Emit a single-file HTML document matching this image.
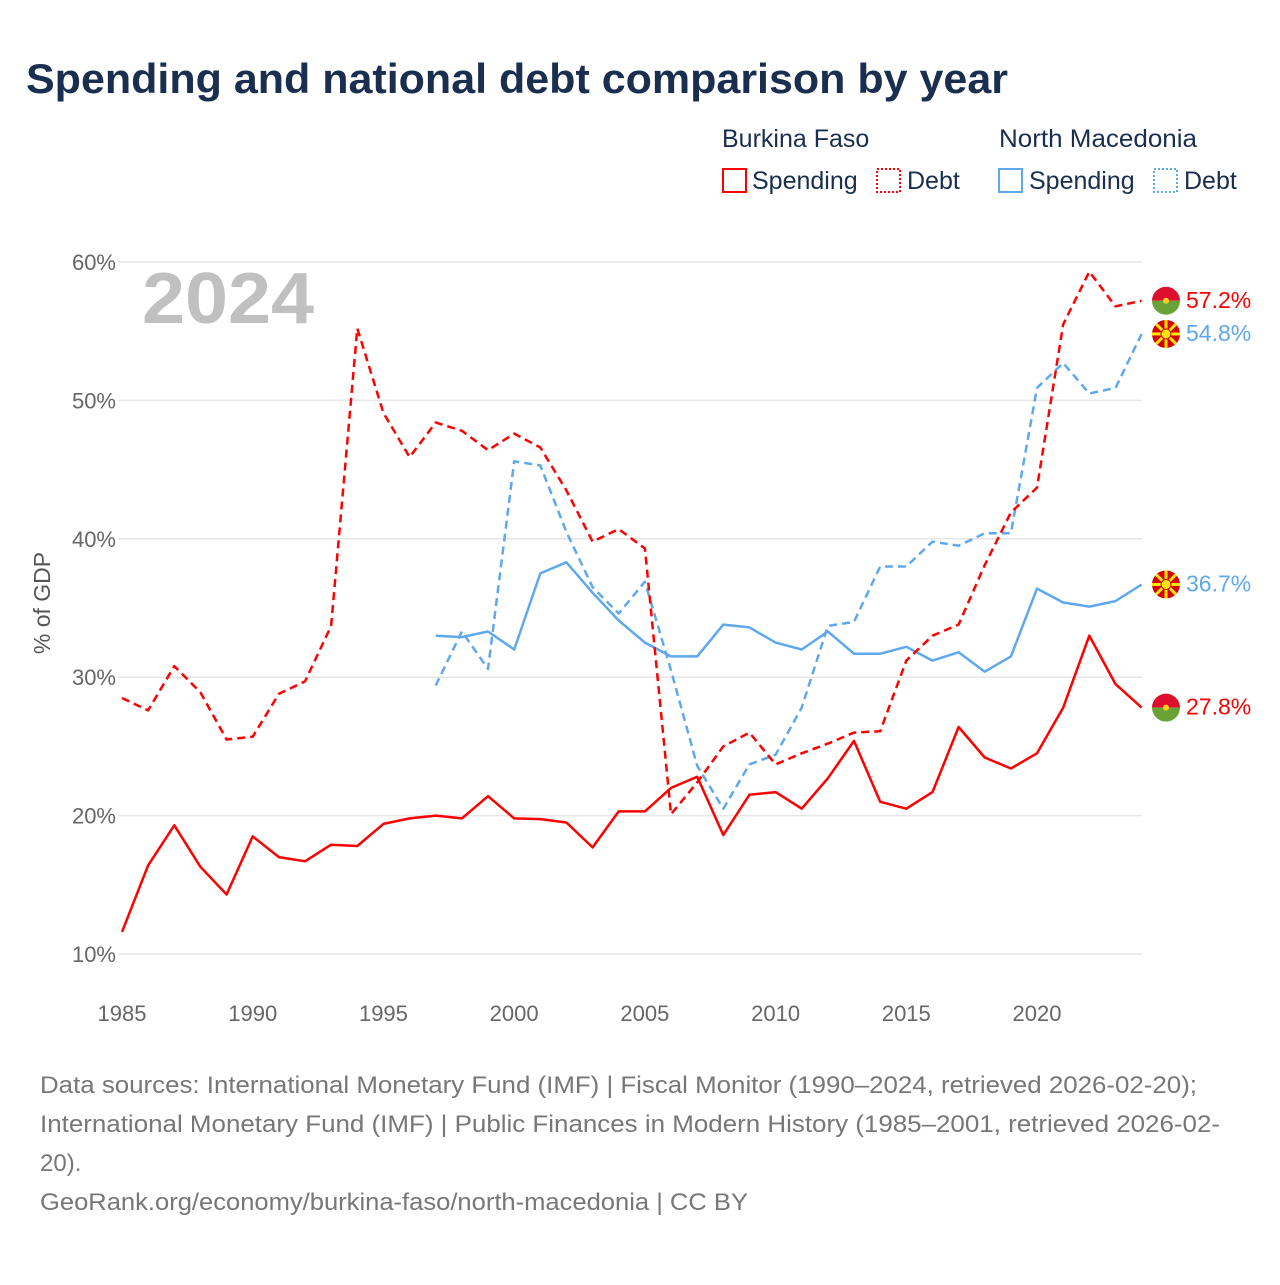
<!DOCTYPE html>
<html><head><meta charset="utf-8">
<style>
body{margin:0;background:#fff;width:1280px;height:1280px;overflow:hidden;font-family:"Liberation Sans",sans-serif;}
</style></head>
<body>
<svg id="chart" width="1280" height="1280" xmlns="http://www.w3.org/2000/svg" font-family="Liberation Sans, sans-serif">
<text x="26" y="93" font-size="42" font-weight="bold" fill="#1a2e4f" textLength="982" lengthAdjust="spacingAndGlyphs">Spending and national debt comparison by year</text>
<g fill="#1a2e4f" font-size="25">
<text x="722" y="147">Burkina Faso</text>
<text x="999" y="147" textLength="198" lengthAdjust="spacingAndGlyphs">North Macedonia</text>
<rect x="723" y="169" width="23" height="23" fill="none" stroke="#ff0000" stroke-width="2"/>
<text x="752" y="189">Spending</text>
<rect x="877" y="169" width="23" height="23" fill="none" stroke="#ff0000" stroke-width="2" stroke-dasharray="2,2"/>
<text x="907" y="189">Debt</text>
<rect x="999" y="169" width="23" height="23" fill="none" stroke="#5fa8ee" stroke-width="2"/>
<text x="1029" y="189">Spending</text>
<rect x="1154" y="169" width="23" height="23" fill="none" stroke="#5fa8ee" stroke-width="2" stroke-dasharray="2,2"/>
<text x="1184" y="189">Debt</text>
</g>
<text x="142" y="323" font-size="72" font-weight="bold" fill="#c0c0c0" textLength="172" lengthAdjust="spacingAndGlyphs">2024</text>
<text transform="translate(50,603) rotate(-90)" text-anchor="middle" font-size="23" fill="#555">% of GDP</text>
<g id="grid"></g><g id="series"></g><g id="ends"></g>
<g font-size="24" fill="#777">
<text x="40" y="1093" textLength="1157" lengthAdjust="spacingAndGlyphs">Data sources: International Monetary Fund (IMF) | Fiscal Monitor (1990–2024, retrieved 2026-02-20);</text>
<text x="40" y="1132" textLength="1180" lengthAdjust="spacingAndGlyphs">International Monetary Fund (IMF) | Public Finances in Modern History (1985–2001, retrieved 2026-02-</text>
<text x="40" y="1171">20).</text>
<text x="40" y="1210" textLength="708" lengthAdjust="spacingAndGlyphs">GeoRank.org/economy/burkina-faso/north-macedonia | CC BY</text>
</g>
</svg>
<script>
const yTicks=[10,20,30,40,50,60];
const xTicks=[1985,1990,1995,2000,2005,2010,2015,2020];
const bfYears0=1985;
const bfSpending=[11.6,16.4,19.3,16.3,14.3,18.5,17.0,16.7,17.9,17.8,19.4,19.8,20.0,19.8,21.4,19.8,19.75,19.5,17.7,20.3,20.3,22.0,22.8,18.6,21.5,21.7,20.5,22.7,25.4,21.0,20.5,21.7,26.4,24.2,23.4,24.5,27.8,33.0,29.5,27.8];
const bfDebt=[28.5,27.6,30.8,28.9,25.5,25.7,28.8,29.7,33.7,55.2,49.1,45.9,48.4,47.8,46.4,47.6,46.6,43.5,39.8,40.7,39.3,20.1,22.4,25.0,26.0,23.7,24.5,25.2,26.0,26.1,31.2,33.0,33.8,38.1,41.9,43.7,55.5,59.3,56.8,57.2];
const nmYears0=1997;
const nmSpending=[33.0,32.9,33.3,32.0,37.5,38.3,36.1,34.1,32.5,31.5,31.5,33.8,33.6,32.5,32.0,33.3,31.7,31.7,32.2,31.2,31.8,30.4,31.5,36.4,35.4,35.1,35.5,36.7];
const nmDebt=[29.4,33.3,30.6,45.6,45.3,40.5,36.5,34.6,36.9,30.5,23.6,20.5,23.7,24.4,27.8,33.7,34.0,38.0,38.0,39.8,39.5,40.4,40.4,50.9,52.7,50.5,50.9,54.8];
const X=yr=>122+(yr-1985)*(1019.6/39);
const Y=v=>954-(v-10)*13.84;
const NS='http://www.w3.org/2000/svg';
function mk(t,a,p){const e=document.createElementNS(NS,t);for(const k in a)e.setAttribute(k,a[k]);p.appendChild(e);return e;}
const grid=document.getElementById('grid');
yTicks.forEach(v=>{
  const l=mk('line',{x1:118,x2:1142,y1:Y(v),y2:Y(v),stroke:'#e6e6e6','stroke-width':1.5},grid);
  
  
  const t=mk('text',{x:116,y:Y(v)+8,'text-anchor':'end','font-size':22,fill:'#666'},grid);
  t.textContent=v+'%';
  
  
});
xTicks.forEach(yr=>{
  const t=mk('text',{x:X(yr),y:1021,'text-anchor':'middle','font-size':22,fill:'#666'},grid);
  t.textContent=yr;
  
  
});
const series=document.getElementById('series');
function line(vals,y0,color,dash,name){
  const d=vals.map((v,i)=>(i?'L':'M')+X(y0+i).toFixed(1)+','+Y(v).toFixed(1)).join('');
  const p=mk('path',{d:d,fill:'none',stroke:color,'stroke-width':2.5,'stroke-linejoin':'round'},series);
  if(dash)p.setAttribute('stroke-dasharray','8,5');
  
  
}
line(nmDebt,nmYears0,'#5fa8ee',true,'nm-debt-line');
line(nmSpending,nmYears0,'#5fa8ee',false,'nm-spending-line');
line(bfDebt,bfYears0,'#ff0000',true,'bf-debt-line');
line(bfSpending,bfYears0,'#ff0000',false,'bf-spending-line');
const ends=document.getElementById('ends');
function flag(kind,v,color,name){
  const cx=1166,cy=Y(v),g=mk('g',{},ends);
  
  
  if(kind==='bf'){
    mk('path',{d:`M${cx-14},${cy}A14,14 0 0 1 ${cx+14},${cy}Z`,fill:'#de0f2c'},g);
    mk('path',{d:`M${cx-14},${cy}A14,14 0 0 0 ${cx+14},${cy}Z`,fill:'#6aa238'},g);
    mk('circle',{cx:cx,cy:cy,r:3,fill:'#fcd116'},g);
  }else{
    mk('circle',{cx:cx,cy:cy,r:14,fill:'#d20000'},g);
    for(let i=0;i<8;i++){const a=i*Math.PI/4;mk('line',{x1:cx,y1:cy,x2:cx+14*Math.cos(a),y2:cy+14*Math.sin(a),stroke:'#ffe600','stroke-width':3},g);}
    mk('circle',{cx:cx,cy:cy,r:5,fill:'#ffe600',stroke:'#d20000','stroke-width':1},g);
  }
  const t=mk('text',{x:1186,y:cy+7,'font-size':23,fill:color},ends);
  t.textContent=v.toFixed(1)+'%';
  
  
}
flag('bf',bfDebt[bfDebt.length-1],'#ff0000','bf-debt');
flag('nm',nmDebt[nmDebt.length-1],'#5fa8ee','nm-debt');
flag('nm',nmSpending[nmSpending.length-1],'#5fa8ee','nm-spending');
flag('bf',bfSpending[bfSpending.length-1],'#ff0000','bf-spending');
</script>
</body></html>
